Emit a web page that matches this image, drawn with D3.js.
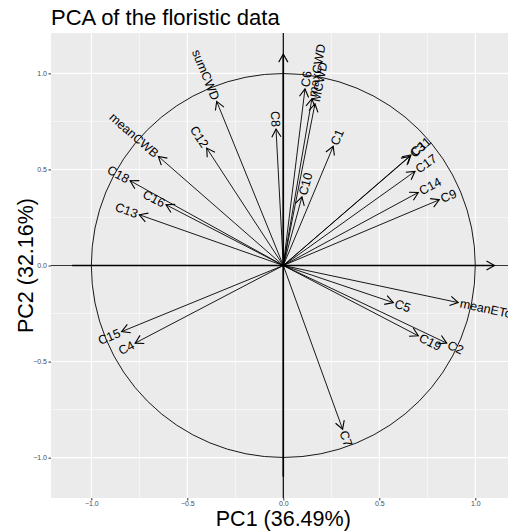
<!DOCTYPE html>
<html>
<head>
<meta charset="utf-8">
<script src="https://cdn.jsdelivr.net/npm/d3@7"></script>
<style>
  body { margin: 0; background: #fff; }
  text { font-family: "Liberation Sans", Arial, sans-serif; }
  .axis path { display: none; }
  .axis line { stroke: #333; }
  .axis text { fill: #4D4D4D; font-size: 7px; }
</style>
</head>
<body>
<div id="chart"></div>
<script>
// loadings
var varNames = ["sumCWD", "meanCWB", "maxCWD", "MCWD", "meanETo",
  "C1", "C2", "C3", "C4", "C5", "C6", "C7", "C8", "C9", "C10",
  "C11", "C12", "C13", "C14", "C15", "C16", "C17", "C18", "C19"];
var pc1 = [-0.347, -0.651, 0.149, 0.165, 0.911,
  0.26, 0.851, 0.66, -0.772, 0.573, 0.113, 0.309, -0.038, 0.8125, 0.097,
  0.665, -0.399, -0.75, 0.703, -0.842, -0.611, 0.686, -0.798, 0.703];
var pc2 = [0.854, 0.568, 0.868, 0.842, -0.193,
  0.62, -0.404, 0.568, -0.404, -0.193, 0.919, -0.852, 0.710, 0.342, 0.357,
  0.575, 0.611, 0.264, 0.38, -0.344, 0.316, 0.49, 0.441, -0.366];

var majorTicks = [-1, -0.5, 0, 0.5, 1];
var minorTicks = [-0.75, -0.25, 0.25, 0.75];

var titleText = "PCA of the floristic data";
var xTitle = "PC1 (36.49%)";
var yTitle = "PC2 (32.16%)";

(function() {
  var width = 508, height = 532;
  var panel = {left: 51, right: 515.6, top: 33, bottom: 498};

  var svg = d3.select("#chart").append("svg")
    .attr("width", width)
    .attr("height", height);

  var x = d3.scaleLinear().domain([-1.21, 1.21]).range([panel.left, panel.right]);
  var y = d3.scaleLinear().domain([-1.21, 1.21]).range([panel.bottom, panel.top]);

  var defs = svg.append("defs");
  defs.append("clipPath").attr("id", "clip")
    .append("rect")
    .attr("x", panel.left).attr("y", panel.top)
    .attr("width", panel.right - panel.left)
    .attr("height", panel.bottom - panel.top);

  defs.append("marker")
    .attr("id", "head")
    .attr("markerUnits", "userSpaceOnUse")
    .attr("viewBox", "-10 -6 12 12")
    .attr("refX", 0).attr("refY", 0)
    .attr("markerWidth", 12).attr("markerHeight", 12)
    .attr("orient", "auto")
    .append("path")
    .attr("d", "M-8,-4.6L0,0L-8,4.6")
    .attr("fill", "none")
    .attr("stroke", "#000")
    .attr("stroke-width", 1.1);

  // panel background + grid
  svg.append("rect")
    .attr("x", panel.left).attr("y", panel.top)
    .attr("width", panel.right - panel.left)
    .attr("height", panel.bottom - panel.top)
    .attr("fill", "#EBEBEB");

  var plot = svg.append("g").attr("clip-path", "url(#clip)");

  plot.selectAll(".vminor").data(minorTicks).enter().append("line")
    .attr("x1", d => x(d)).attr("x2", d => x(d))
    .attr("y1", panel.top).attr("y2", panel.bottom)
    .attr("stroke", "#fff").attr("stroke-width", 0.6);
  plot.selectAll(".hminor").data(minorTicks).enter().append("line")
    .attr("y1", d => y(d)).attr("y2", d => y(d))
    .attr("x1", panel.left).attr("x2", panel.right)
    .attr("stroke", "#fff").attr("stroke-width", 0.6);
  plot.selectAll(".vmajor").data(majorTicks).enter().append("line")
    .attr("x1", d => x(d)).attr("x2", d => x(d))
    .attr("y1", panel.top).attr("y2", panel.bottom)
    .attr("stroke", "#fff").attr("stroke-width", 1.1);
  plot.selectAll(".hmajor").data(majorTicks).enter().append("line")
    .attr("y1", d => y(d)).attr("y2", d => y(d))
    .attr("x1", panel.left).attr("x2", panel.right)
    .attr("stroke", "#fff").attr("stroke-width", 1.1);

  // zero lines across the panel
  plot.append("line")
    .attr("x1", panel.left).attr("x2", panel.right)
    .attr("y1", y(0)).attr("y2", y(0))
    .attr("stroke", "#000").attr("stroke-width", 0.8);
  plot.append("line")
    .attr("x1", x(0)).attr("x2", x(0))
    .attr("y1", panel.top).attr("y2", panel.bottom)
    .attr("stroke", "#000").attr("stroke-width", 1.2);

  // axis arrows
  plot.append("line")
    .attr("x1", x(-1.1)).attr("x2", x(1.1))
    .attr("y1", y(0)).attr("y2", y(0))
    .attr("stroke", "#000").attr("stroke-width", 1.6)
    .attr("marker-end", "url(#head)");
  plot.append("line")
    .attr("x1", x(0)).attr("x2", x(0))
    .attr("y1", y(-1.1)).attr("y2", y(1.1))
    .attr("stroke", "#000").attr("stroke-width", 1.6)
    .attr("marker-end", "url(#head)");

  // correlation circle
  plot.append("circle")
    .attr("cx", x(0)).attr("cy", y(0))
    .attr("r", x(1) - x(0))
    .attr("fill", "none")
    .attr("stroke", "#000")
    .attr("stroke-width", 0.9);

  var data = varNames.map(function(n, i) {
    return {name: n, px: pc1[i], py: pc2[i]};
  });

  plot.selectAll(".vec").data(data).enter().append("line")
    .attr("class", "vec")
    .attr("x1", x(0)).attr("y1", y(0))
    .attr("x2", d => x(d.px)).attr("y2", d => y(d.py))
    .attr("stroke", "#000").attr("stroke-width", 0.9)
    .attr("marker-end", "url(#head)");

  // labels rotated along the arrow, placed past the tip
  plot.selectAll(".lab").data(data).enter().append("text")
    .attr("class", "lab")
    .attr("transform", function(d) {
      var ang = Math.atan(d.py / d.px) * 180 / Math.PI;
      return "translate(" + x(d.px) + "," + y(d.py) + ") rotate(" + (-ang) + ")";
    })
    .attr("x", d => d.px >= 0 ? 2 : -2)
    .attr("dy", "0.35em")
    .attr("text-anchor", d => d.px >= 0 ? "start" : "end")
    .style("font-size", "12.5px")
    .attr("fill", "#000")
    .text(d => d.name);

  // axes
  var fmt = d3.format(".1f");
  svg.append("g")
    .attr("class", "axis")
    .attr("transform", "translate(0," + panel.bottom + ")")
    .call(d3.axisBottom(x).tickValues(majorTicks).tickFormat(fmt).tickSize(2.5).tickPadding(0.5));
  svg.append("g")
    .attr("class", "axis")
    .attr("transform", "translate(" + panel.left + ",0)")
    .call(d3.axisLeft(y).tickValues(majorTicks).tickFormat(fmt).tickSize(2.5).tickPadding(1.5));

  // titles
  svg.append("text")
    .attr("x", 51).attr("y", 25)
    .style("font-size", "22px")
    .attr("fill", "#000")
    .text(titleText);

  svg.append("text")
    .attr("x", (panel.left + panel.right) / 2)
    .attr("y", 526)
    .attr("text-anchor", "middle")
    .style("font-size", "21.5px")
    .attr("fill", "#000")
    .text(xTitle);

  svg.append("text")
    .attr("transform", "translate(33," + ((panel.top + panel.bottom) / 2) + ") rotate(-90)")
    .attr("text-anchor", "middle")
    .style("font-size", "21.5px")
    .attr("fill", "#000")
    .text(yTitle);
})();
</script>
</body>
</html>
